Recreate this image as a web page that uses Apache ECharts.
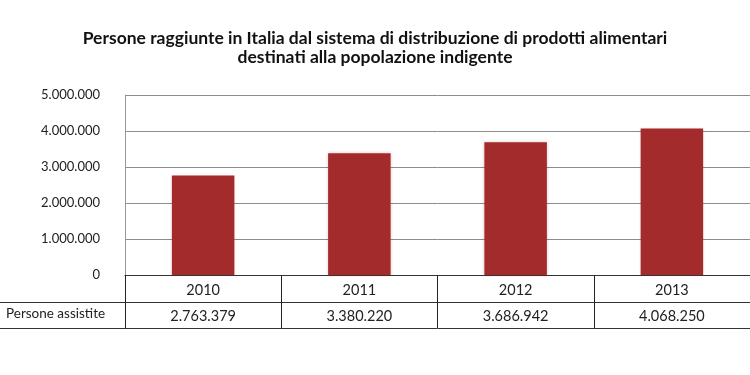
<!DOCTYPE html>
<html>
<head>
<meta charset="utf-8">
<script src="https://cdn.jsdelivr.net/npm/echarts@6/dist/echarts.min.js"></script>
<style>
  html, body { margin: 0; padding: 0; background: #fff; }
  #chart { width: 750px; height: 375px; }
</style>
</head>
<body>
<div id="chart"></div>
<script>
// dati
const anni = ['2010', '2011', '2012', '2013'];
const personeAssistite = [2763379, 3380220, 3686942, 4068250];
const rigaLabel = 'Persone assistite';

// 1234567 -> 1.234.567
const fmt = v => String(v).replace(/\B(?=(\d{3})+(?!\d))/g, '.');

const chart = echarts.init(document.getElementById('chart'));
const font = 'Lato';

const option = {
  animation: false,
  textStyle: { fontFamily: font },
  title: {
    text: 'Persone raggiunte in Italia dal sistema di distribuzione di prodotti alimentari\ndestinati alla popolazione indigente',
    left: 'center',
    top: 24,
    textStyle: { fontSize: 17.5, fontWeight: 'bold', color: '#111', lineHeight: 19, fontFamily: font }
  },
  grid: { left: 125, right: -15, top: 95, bottom: 100, containLabel: false },
  xAxis: [
    {
      type: 'category',
      data: anni,
      axisLine: { lineStyle: { color: '#333', width: 1 } },
      axisTick: { show: true, length: 53, lineStyle: { color: '#222' } },
      axisLabel: { color: '#222', fontSize: 14.5, margin: 8 }
    },
    {
      type: 'category',
      data: anni,
      position: 'bottom',
      offset: 27,
      axisLine: { show: true, lineStyle: { color: '#333' } },
      axisTick: { show: false },
      axisLabel: { color: '#222', fontSize: 14.5, margin: 7, formatter: (v, i) => fmt(personeAssistite[i]) }
    },
    {
      type: 'category',
      data: anni,
      position: 'bottom',
      offset: 53,
      axisLine: { show: true, lineStyle: { color: '#333' } },
      axisTick: { show: false },
      axisLabel: { show: false }
    }
  ],
  yAxis: {
    type: 'value',
    min: 0,
    max: 5000000,
    interval: 1000000,
    axisLine: { show: true, lineStyle: { color: '#999' } },
    axisTick: { show: false },
    splitLine: { lineStyle: { color: '#8c8c8c', width: 1 } },
    axisLabel: { color: '#222', fontSize: 13, margin: 25, formatter: v => fmt(v) }
  },
  series: [{
    type: 'bar',
    data: personeAssistite,
    barWidth: '40%',
    itemStyle: {
      color: '#a32b2b',
      shadowBlur: 3,
      shadowColor: 'rgba(160,40,40,0.25)'
    }
  }],
  graphic: [
    { type: 'line', shape: { x1: 0, y1: 302.5, x2: 125, y2: 302.5 }, style: { stroke: '#333', lineWidth: 1 } },
    { type: 'line', shape: { x1: 0, y1: 328.5, x2: 125, y2: 328.5 }, style: { stroke: '#333', lineWidth: 1 } },
    { type: 'text', left: 6, top: 307, style: { text: rigaLabel, fontSize: 13.5, fill: '#222', fontFamily: font } }
  ]
};

chart.setOption(option);
</script>
</body>
</html>
